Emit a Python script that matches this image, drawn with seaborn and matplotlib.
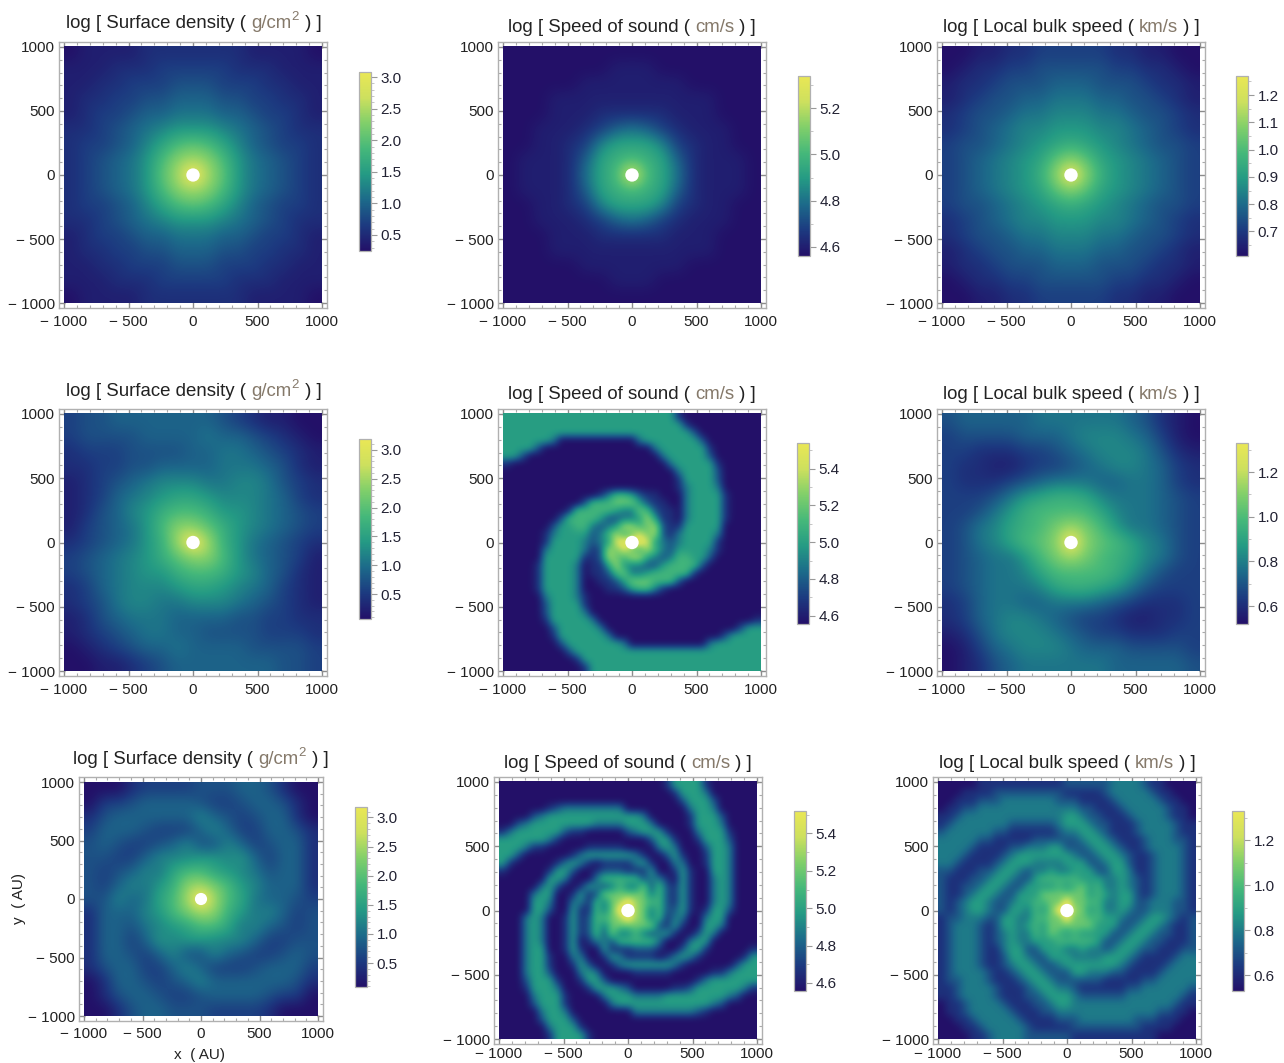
import numpy as np
import pandas as pd
import matplotlib
matplotlib.use('Agg')
import matplotlib.pyplot as plt
from matplotlib.patches import Circle
import seaborn as sns

# every row is one line of cells, top to bottom, as colour levels
sigma_a = [
    "01111222222211110", "11122233333222111", "11223334443332211",
    "12233445554433221", "12334556665543321", "22345678887654322",
    "2334579bcb9754332", "234568befeb865432", "234568cfjfc865432",
    "234568befeb865432", "2334579bcb9754332", "22345678887654322",
    "12334556665543321", "12233445554433221", "11223334443332211",
    "11122233333222111", "01111222222211110",
]
sound_a = [
    "00000000000000000", "00000001110000000", "00000111111100000",
    "00011111111111000", "00011122222111000", "00111235653211100",
    "00112379997321100", "0111259aba9521110", "0111269bjb9621110",
    "0111259aba9521110", "00112379997321100", "00111235653211100",
    "00011122222111000", "00011111111111000", "00000111111100000",
    "00000001110000000", "00000000000000000",
]
speed_a = [
    "00112233333221100", "01223344444332210", "12234445554443221",
    "12344556665544321", "23445667776654432", "23456778887765432",
    "34456789a98765443", "3456789cec9876543", "345678aejea876543",
    "3456789cec9876543", "34456789a98765443", "23456778887765432",
    "23445667776654432", "12344556665544321", "12234445554443221",
    "01223344444332210", "00112233333221100",
]
sigma_b = [
    "34455555554321100", "34444555565543210", "23334444556654321",
    "22334455556665421", "12345677766776432", "12356789987776532",
    "124578abba8876543", "134568beeca876543", "234568afjfa865432",
    "345678aceeb865431", "3456788abba875421", "23567778998765321",
    "23467766777654321", "12456665555443322", "12345665544443332",
    "01234556555544443", "00112345555555443",
]
sound_b = [
    "444444444444444444444410000000000", "444444444444444444444441000000000",
    "444444444444444444444444200000000", "444444300000000003444444420000000",
    "444420000000000000034444441000000", "442000000000000000003444442000000",
    "100000000000000000000344444100000", "000000000000000000000034444200000",
    "000000000000000000000014444200000", "000000000000000000000013444300000",
    "000000000000135542110003444410000", "000000000025556664211003444410000",
    "000000001555554336521103444410000", "000000025555422334741103444410000",
    "000000244553234775672114444400000", "000001344442357568672134444300000",
    "0000014444323489" "9" "9843234444100000",
    "000003444431276865753244443100000", "000004444411276577432355442000000",
    "000014444301147433224555520000000", "000014444301125633455555100000000",
    "000014444300112466655520000000000", "000014444300011245531000000000000",
    "000003444310000000000000000000000", "000002444410000000000000000000000",
    "000002444430000000000000000000000", "000001444443000000000000000000001",
    "000000244444300000000000000000244", "000000144444430000000000000024444",
    "000000024444444300000000003444444", "000000002444444444444444444444444",
    "000000000144444444444444444444444", "000000000014444444444444444444444",
]
speed_b = [
    "45555566666654210", "34444555677765310", "33222334567776421",
    "32211233456776532", "32223456665566532", "3334689aa97666543",
    "33468abbbb9766543", "34679abdfdb866543", "34679bcejecb97643",
    "345668bdfdba97643", "3456679bbbba86433", "34566679aa9864333",
    "23566556665432223", "23567765433211223", "12467776543322233",
    "01356777655544443", "01245666666555554",
]
sigma_c = [
    "00023333444554200", "03345555433455420", "24555555754345520",
    "35554333575335542", "45433457447534552", "44335777887853552",
    "4345769bb98764552", "435768aefdb875552", "447569bfjfb965543",
    "255578bdfea867534", "25546789bb9675434", "25535878877753344",
    "25543574475433454", "24553357533345553", "02554345755555542",
    "02455433455554330", "00245544433332000",
]
sound_c = [
    "0000000000000000" "00000144441000000", "0000000000000000" "00000014443000000",
    "0000000000000000" "00000002444200000", "0000001233333333" "00000000344300000",
    "0000234444444444" "44300000144420000", "0023444444443333" "44430000144430000",
    "1344444421100000" "23444100034441000", "4444443100000000" "00024410014442000",
    "4443110000011111" "00003430002443000", "4420000001344444" "43100241001443000",
    "4100000134310111" "13410033001443000", "1000001442001222" "11140014100443000",
    "0000004430003555" "55233104100343000", "0000034200143235" "33625214100343000",
    "0000344001412666" "66635214100343000", "0000443003315367" "97655214100343000",
    "0000442004115369" "97635224101442000",
    "00034300141255679" "7635133003440000", "00034300141253666" "6662141004430000",
    "00034300141252633" "5323410024300000", "00034300140133255" "5553000344000000",
    "00034400141004111" "2221002441000001", "00034410033001431" "1110134310000014",
    "00034410014200134" "4444431000000244", "00034420003430000" "1111100000113444",
    "00024441001442000" "0000000013444444", "00014443000144432" "0000011244444431",
    "00003444100003444" "3333444444443200", "00002444100000344" "4444444444320000",
    "00000344300000000" "3333333321000000", "00000244420000000" "0000000000000000",
    "00000034441000000" "0000000000000000", "00000014444100000" "0000000000000000",
]
speed_c = [
    "0000011111111111" "22222233332110000", "0001111222222222" "11111233333211000",
    "0011122233333332" "22111123333321100", "0112233333333333" "33221112333332110",
    "1123333333333333" "44322111233332110", "1233333332222223" "44432211123333211",
    "2333333221111112" "33443211123333211", "3333322111112222" "22344321112333221",
    "3333211112233344" "22234432112333321", "3332111123444444" "43223443211233321",
    "3321111234443333" "44422344211233321", "2211122344323343" "34442244311233321",
    "2111223443224555" "55444334321233321", "2112234432244445" "45645334321233321",
    "2112344322444666" "66645434421233321", "2123443223445566" "96655334422333221",
    "2123443224435469" "97645334322333221",
    "12233322443355669" "6655443223443212", "12333212443454666" "6664442234432112",
    "12333212343354654" "5444422344322112", "12333212343344455" "5554223443221112",
    "12333211344224443" "3433234432211122", "12333211244322444" "3333444321111233",
    "12333211234432234" "4444443211112333", "12333321123443222" "4433322111123333",
    "12233321112344322" "2222111112233333", "11233332111234433" "2111111223333332",
    "11233332111223444" "3222222333333321", "01123333211122344" "3333333333333211",
    "01123333321112233" "3333333333322110", "00112333332111122" "2333333322211100",
    "00011233333211111" "2222222221111000", "00001123333222222" "1111111111100000",
]

axis_ticks = [-1000, -500, 0, 500, 1000]
titles = ["Surface density", "Speed of sound", "Local bulk speed"]
units = ["g/cm", "cm/s", "km/s"]

sigma_ticks = [0.5, 1.0, 1.5, 2.0, 2.5, 3.0]
sound_ticks_a = [4.6, 4.8, 5.0, 5.2]
sound_ticks = [4.6, 4.8, 5.0, 5.2, 5.4]
speed_ticks_a = [0.7, 0.8, 0.9, 1.0, 1.1, 1.2]
speed_ticks = [0.6, 0.8, 1.0, 1.2]

W, H = 1284, 1063
sns.set_theme(style='white')
plt.rcParams['font.family'] = ['Liberation Sans', 'DejaVu Sans']

cmap = sns.blend_palette(['#231068', '#1c3a80', '#1c6a8a', '#249a84', '#45b87a',
                          '#80cf6a', '#cde05e', '#eae755'], as_cmap=True)


def box(l, r, t, b):
    return [l / W, 1 - b / H, (r - l) / W, (b - t) / H]


def decode(rows, lo, hi, top):
    assert len(set(map(len, rows))) == 1, [len(r) for r in rows]
    levels = np.array([[int(c, 36) for c in r] for r in rows], dtype=float)
    return lo + levels / top * (hi - lo)


def axis_label(v):
    return f"\u2212 {abs(v)}" if v < 0 else str(v)


def draw_title(fig, x, y, name, unit):
    # title runs in three colours so the pieces are chained by their width
    rend = fig.canvas.get_renderer()
    pieces = [(f"log [ {name} ( ", '#222222', 13.4, 0)]
    pieces.append((unit, '#85796a', 13.4, 0))
    if unit == "g/cm":
        pieces.append(("2", '#85796a', 9.5, 6))
    pieces.append((" ) ]", '#222222', 13.4, 0))
    for txt, col, size, dy in pieces:
        t = fig.text(x / W, 1 - (y + 1 - dy) / H, txt, color=col, fontsize=size, ha='left', va='center')
        x = t.get_window_extent(rend).x1 + (1 if dy else 0)


def draw_panel(fig, rows, lo, hi, top, ticks, minor, frame, bar, title_xy, title, unit, xpad=5, hole=52):
    ax = fig.add_axes(box(*frame))
    cax = fig.add_axes(box(*bar))
    vals = decode(rows, lo, hi, top)
    sns.heatmap(pd.DataFrame(vals), ax=ax, cbar_ax=cax, cmap=cmap, vmin=lo, vmax=hi,
                xticklabels=False, yticklabels=False, cbar_kws={'ticks': ticks})
    mesh = ax.collections[0]
    cb = mesh.colorbar
    mesh.set_visible(False)
    # same cells again, smoothed on screen
    ax.imshow(vals, cmap=cmap, vmin=lo, vmax=hi, interpolation='bicubic',
              extent=(-1000, 1000, -1000, 1000), origin='upper', aspect='auto', zorder=2)
    ax.add_patch(Circle((0, 0), hole, color='white', zorder=3, lw=0))

    span = 1000 * (frame[1] - frame[0]) / (frame[1] - frame[0] - 10)
    ax.set_xlim(-span, span)
    ax.set_ylim(-span, span)
    ax.set_xticks(axis_ticks)
    ax.set_yticks(axis_ticks)
    ax.set_xticklabels([axis_label(v) for v in axis_ticks])
    ax.set_yticklabels([axis_label(v) for v in axis_ticks])
    ax.set_xticks(np.arange(-900, 1000, 100), minor=True)
    ax.set_yticks(np.arange(-900, 1000, 100), minor=True)
    ax.tick_params(which='major', direction='in', length=4, width=1, color='#8c8c8c',
                   top=True, right=True, bottom=True, left=True, labelsize=11, pad=3,
                   labelcolor='#222222')
    ax.tick_params(axis='x', which='major', pad=xpad)
    ax.tick_params(which='minor', direction='in', length=2.2, width=0.8, color='#aaaaaa',
                   top=True, right=True, bottom=True, left=True)
    for s in ax.spines.values():
        s.set_visible(True)
        s.set_color('#b0b0b0')
        s.set_linewidth(1.0)

    cb.outline.set_visible(True)
    cb.outline.set_edgecolor('#b0b0b0')
    cb.outline.set_linewidth(0.9)
    cb.ax.set_yticks(ticks)
    cb.ax.set_yticklabels([f"{t:.1f}" for t in ticks])
    cb.ax.set_yticks(np.arange(np.ceil(lo / minor) * minor, hi, minor), minor=True)
    cb.ax.tick_params(which='major', length=4, width=0.8, color='#999999', labelsize=11,
                      pad=3, labelcolor='#222233', right=True)
    cb.ax.tick_params(which='minor', length=2.5, width=0.6, color='#bbbbbb', right=True)
    draw_title(fig, title_xy[0], title_xy[1], title, unit)
    return ax


fig = plt.figure(figsize=(W / 100, H / 100), dpi=100)
fig.canvas.draw()

draw_panel(fig, sigma_a, 0.245, 3.08, 19, sigma_ticks, 0.1, (59, 327, 42, 308), (359, 371, 72, 251),
           (66, 22), titles[0], units[0])
draw_panel(fig, sound_a, 4.56, 5.34, 19, sound_ticks_a, 0.1, (498, 766, 42, 308), (798, 810, 76, 256),
           (508, 27), titles[1], units[1])
draw_panel(fig, speed_a, 0.61, 1.27, 19, speed_ticks_a, 0.05, (937, 1205, 42, 308), (1236, 1248, 76, 256),
           (943, 27), titles[2], units[2])

draw_panel(fig, sigma_b, 0.07, 3.19, 19, sigma_ticks, 0.1, (59, 327, 409, 676), (359, 371, 439, 619),
           (66, 390), titles[0], units[0])
draw_panel(fig, sound_b, 4.555, 5.54, 9, sound_ticks, 0.1, (498, 766, 409, 676), (797, 809, 443, 624),
           (508, 394), titles[1], units[1])
draw_panel(fig, speed_b, 0.52, 1.33, 19, speed_ticks, 0.1, (937, 1205, 409, 676), (1236, 1248, 443, 624),
           (943, 394), titles[2], units[2])

draw_panel(fig, sigma_c, 0.09, 3.18, 19, sigma_ticks, 0.1, (79, 323, 777, 1021), (355, 367, 807, 987),
           (73, 758), titles[0], units[0], xpad=4)
draw_panel(fig, sound_c, 4.557, 5.52, 9, sound_ticks, 0.1, (494, 762, 777, 1044), (794, 806, 811, 991),
           (504, 762), titles[1], units[1], xpad=2.5)
draw_panel(fig, speed_c, 0.53, 1.33, 9, speed_ticks, 0.1, (933, 1201, 777, 1044), (1232, 1244, 811, 991),
           (939, 762), titles[2], units[2], xpad=2.5)

fig.text(200 / W, 1 - 1055 / H, "x  ( AU)", fontsize=11, ha='center', va='center', color='#222222')
fig.text(19 / W, 1 - 898 / H, "y  ( AU)", fontsize=11, ha='center', va='center', color='#222222', rotation=90)

fig.savefig('out.png', dpi=100)
plt.close(fig)
